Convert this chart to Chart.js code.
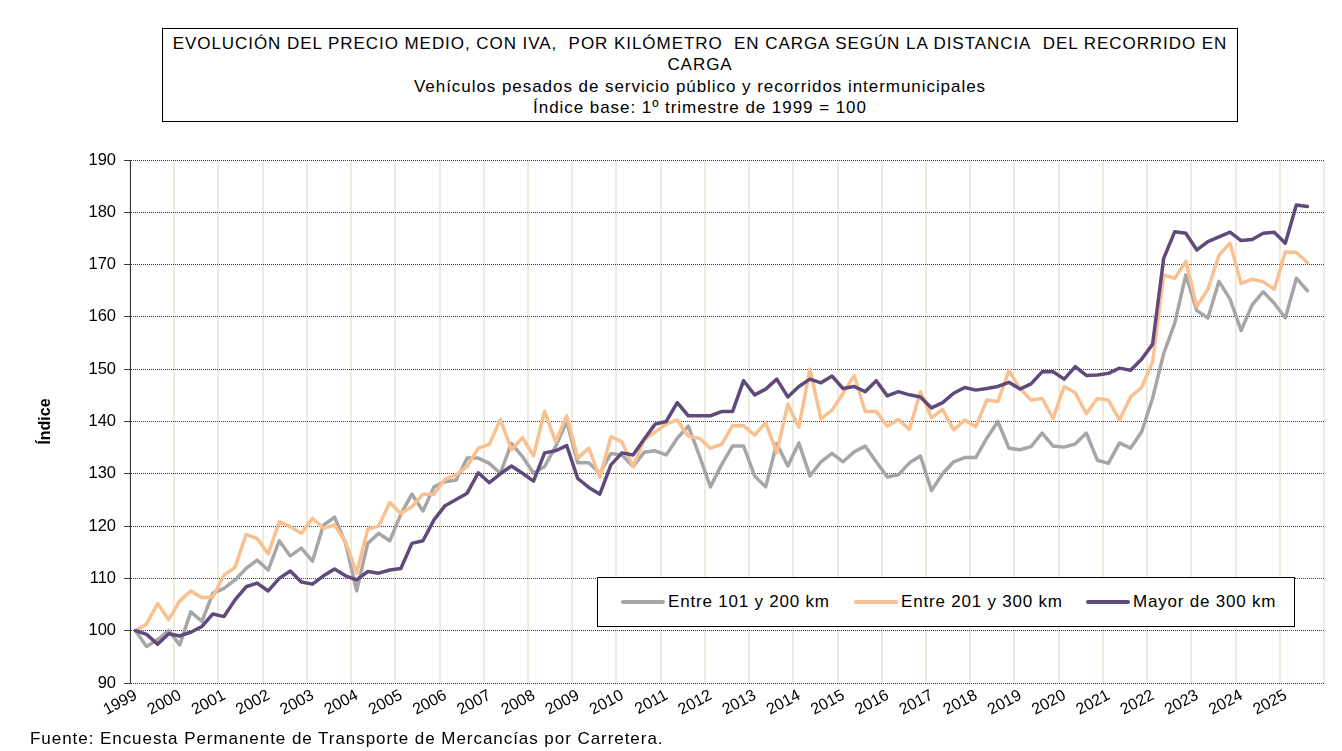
<!DOCTYPE html>
<html lang="es">
<head>
<meta charset="utf-8">
<title>Evolución del precio medio por kilómetro en carga</title>
<script src="https://cdn.jsdelivr.net/npm/chart.js@4.4.1/dist/chart.umd.min.js"></script>
<style>
    html, body {
        margin: 0;
        padding: 0;
        background: #fff;
    }

    #lienzo {
        position: relative;
        width: 1342px;
        height: 751px;
        font-family: "Liberation Sans", Arial, sans-serif;
        color: #000;
        overflow: hidden;
    }

    #grafico {
        position: absolute;
        left: 0;
        top: 0;
    }

    #titulo {
        position: absolute;
        left: 162px;
        top: 28px;
        width: 1076px;
        height: 94px;
        box-sizing: border-box;
        border: 1px solid #000;
        text-align: center;
        font-size: 17px;
        letter-spacing: 0.95px;
        line-height: 21.3px;
        padding-top: 4px;
        background: #fff;
    }

    #leyenda {
        position: absolute;
        left: 597px;
        top: 577px;
        width: 698px;
        height: 50px;
        box-sizing: border-box;
        border: 1.5px solid #000;
        background: #fff;
        font-size: 17px;
        letter-spacing: 0.8px;
    }

    .item {
        position: absolute;
        top: 14px;
        height: 20px;
        line-height: 20px;
        white-space: nowrap;
    }

    .muestra {
        display: inline-block;
        width: 44px;
        height: 4px;
        border-radius: 2px;
        vertical-align: middle;
        margin-right: 3px;
        position: relative;
        top: -1px;
    }

    #fuente {
        position: absolute;
        left: 30px;
        top: 729px;
        font-size: 17px;
        letter-spacing: 0.95px;
        white-space: nowrap;
    }
</style>
</head>
<body>
<div id="lienzo">
    <canvas id="grafico" width="1342" height="751"></canvas>

    <div id="titulo">
        <div>EVOLUCIÓN DEL PRECIO MEDIO, CON IVA,&nbsp; POR KILÓMETRO&nbsp; EN CARGA SEGÚN LA DISTANCIA&nbsp; DEL RECORRIDO EN</div>
        <div>CARGA</div>
        <div>Vehículos pesados de servicio público y recorridos intermunicipales</div>
        <div>Índice base: 1º trimestre de 1999 = 100</div>
    </div>

    <div id="leyenda"></div>

    <div id="fuente">Fuente: Encuesta Permanente de Transporte de Mercancías por Carretera.</div>
</div>

<script>
// etiquetas del eje X (una por año, 4 trimestres cada una)
const anios = [
    "1999", "2000", "2001", "2002", "2003", "2004", "2005", "2006", "2007",
    "2008", "2009", "2010", "2011", "2012", "2013", "2014", "2015", "2016",
    "2017", "2018", "2019", "2020", "2021", "2022", "2023", "2024", "2025"
];

const trimestresEje = 108;

const series = [
    "Entre 101 y 200 km",
    "Entre 201 y 300 km",
    "Mayor de 300 km"
];

// 1999T1 ... 2025T3
const entre101y200 = [
    100.0, 97.0, 98.3, 100.0,
    97.3, 103.6, 101.8, 107.2,
    108.1, 109.7, 111.9, 113.5,
    111.6, 117.2, 114.3, 115.8,
    113.3, 120.2, 121.7, 116.7,
    107.6, 116.7, 118.6, 117.2,
    122.3, 126.1, 122.9, 127.5,
    128.5, 128.8, 133.0, 133.0,
    132.0, 130.1, 135.8, 133.3,
    130.1, 131.4, 135.2, 140.0,
    132.1, 132.1, 130.1, 133.9,
    133.6, 131.4, 134.1, 134.4,
    133.6, 136.8, 139.1, 133.5,
    127.5, 131.7, 135.3, 135.3,
    129.6, 127.5, 135.8, 131.5,
    135.9, 129.6, 132.3, 133.9,
    132.3, 134.2, 135.3, 132.3,
    129.4, 129.8, 132.1, 133.4,
    126.8, 130.0, 132.3, 133.1,
    133.1, 136.8, 140.0, 134.9,
    134.6, 135.2, 137.8, 135.3,
    135.1, 135.7, 137.8, 132.6,
    132.0, 135.9, 134.9, 138.0,
    144.5, 153.0, 158.8, 168.0,
    161.2, 159.8, 166.8, 163.4,
    157.4, 162.3, 164.8, 162.6,
    159.8, 167.4, 165.0
];

const entre201y300 = [
    100.0, 101.3, 105.2, 102.1,
    105.7, 107.6, 106.3, 106.5,
    110.6, 112.1, 118.4, 117.6,
    114.7, 120.8, 119.9, 118.6,
    121.5, 119.6, 120.2, 117.0,
    111.0, 119.4, 120.0, 124.5,
    122.4, 123.7, 126.1, 126.1,
    129.0, 129.8, 131.4, 134.9,
    135.6, 140.4, 134.6, 136.9,
    133.4, 142.0, 136.1, 141.1,
    133.0, 134.9, 129.3, 137.1,
    136.1, 131.4, 136.5, 138.0,
    139.5, 140.3, 137.2, 136.8,
    134.9, 135.6, 139.2, 139.2,
    137.4, 139.8, 134.0, 143.3,
    138.9, 150.0, 140.5, 142.2,
    145.4, 148.8, 141.9, 141.9,
    139.1, 140.4, 138.5, 145.7,
    140.7, 142.3, 138.4, 140.3,
    139.0, 144.1, 143.8, 149.7,
    146.3, 144.1, 144.4, 140.6,
    146.7, 145.5, 141.5, 144.4,
    144.1, 140.3, 144.7, 146.5,
    151.4, 168.0, 167.4, 170.6,
    162.0, 165.3, 171.8, 174.1,
    166.4, 167.2, 166.7, 165.3,
    172.4, 172.3, 170.4
];

const mayor300 = [
    100.0, 99.3, 97.4, 99.4,
    99.0, 99.7, 100.8, 103.2,
    102.7, 105.9, 108.4, 109.1,
    107.6, 110.0, 111.4, 109.3,
    108.9, 110.5, 111.8, 110.5,
    109.7, 111.3, 111.0, 111.6,
    111.9, 116.7, 117.2, 121.2,
    123.9, 125.1, 126.3, 130.2,
    128.3, 130.0, 131.5, 130.1,
    128.6, 134.0, 134.4, 135.4,
    129.1, 127.4, 126.1, 131.7,
    134.0, 133.6, 136.6, 139.5,
    140.0, 143.6, 141.1, 141.1,
    141.1, 141.9, 141.9, 147.8,
    145.1, 146.2, 148.1, 144.7,
    146.7, 148.1, 147.4, 148.7,
    146.3, 146.7, 145.7, 147.8,
    144.9, 145.7, 145.1, 144.7,
    142.6, 143.6, 145.4, 146.5,
    146.0, 146.3, 146.7, 147.5,
    146.2, 147.2, 149.5, 149.5,
    148.1, 150.5, 148.8, 148.9,
    149.2, 150.2, 149.8, 151.9,
    154.8, 171.2, 176.3, 176.0,
    172.8, 174.4, 175.3, 176.2,
    174.6, 174.8, 176.0, 176.2,
    174.1, 181.4, 181.1
];

const colores = ["#a6a6a6", "#fac090", "#604a7b"];

let chartPrecio = null;

function puntos(valores) {

    // cada trimestre ocupa una unidad del eje; el punto va en su centro
    return valores.map(
        (v, i) => ({ x: i + 0.5, y: v })
    );
}

function crearLeyenda() {

    const caja = document.getElementById("leyenda");
    const posiciones = [23, 256, 488];

    series.forEach((nombre, i) => {

        const item = document.createElement("div");
        item.className = "item";
        item.style.left = posiciones[i] + "px";

        const muestra = document.createElement("span");
        muestra.className = "muestra";
        muestra.style.background = colores[i];

        item.appendChild(muestra);
        item.appendChild(document.createTextNode(nombre));

        caja.appendChild(item);
    });
}

function crearGrafico() {

    Chart.defaults.font.family = '"Liberation Sans", Arial, sans-serif';
    Chart.defaults.color = "#000";

    const valores = [entre101y200, entre201y300, mayor300];

    const datasets = series.map((nombre, i) => ({

        label: nombre,

        data: puntos(valores[i]),

        borderColor: colores[i],
        backgroundColor: colores[i],
        borderWidth: 3.5,
        borderJoinStyle: "round",
        borderCapStyle: "round",
        pointRadius: 0,
        tension: 0,
        order: 3 - i
    }));

    chartPrecio = new Chart(

        document.getElementById("grafico"),

        {
            type: "line",

            data: {
                datasets
            },

            options: {

                responsive: false,
                animation: false,

                layout: {
                    padding: {
                        left: 30,
                        right: 18,
                        top: 160,
                        bottom: 0
                    }
                },

                plugins: {
                    legend: { display: false },
                    title: { display: false },
                    tooltip: { enabled: false }
                },

                scales: {

                    x: {
                        type: "linear",
                        min: 0,
                        max: trimestresEje,

                        ticks: {
                            stepSize: 4,
                            autoSkip: false,
                            maxRotation: 28,
                            minRotation: 28,
                            padding: 3,
                            labelOffset: 6,
                            font: { size: 16 },
                            color: "#000",
                            callback: v => anios[v / 4] ?? ""
                        },

                        grid: {
                            color: "#eeeadc",
                            lineWidth: 2,
                            drawTicks: false
                        },

                        border: { display: false },

                        afterFit: s => { s.height = 68; }
                    },

                    y: {
                        min: 90,
                        max: 190,

                        ticks: {
                            stepSize: 10,
                            padding: 8,
                            font: { size: 16.5 },
                            color: "#000"
                        },

                        grid: {
                            color: "#3a3a3a",
                            lineWidth: 1,
                            tickLength: 6
                        },

                        border: {
                            display: true,
                            color: "#333",
                            width: 1,
                            dash: [1, 1]
                        },

                        title: {
                            display: true,
                            text: "Índice",
                            color: "#000",
                            font: { size: 16, weight: "bold" },
                            padding: { top: 6, bottom: 0 }
                        },

                        afterFit: s => { s.width = 100; }
                    }
                }
            }
        }
    );
}

crearLeyenda();

crearGrafico();
</script>
</body>
</html>
